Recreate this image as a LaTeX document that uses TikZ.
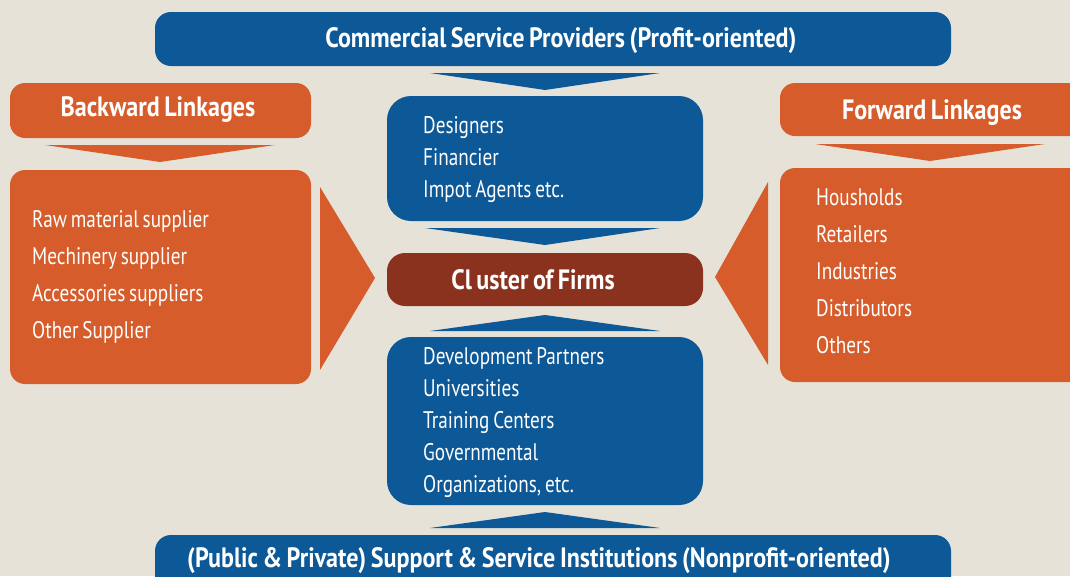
\documentclass[tikz,border=0pt]{standalone}
\usepackage{fontspec}
\setmainfont{PT Sans}[FakeStretch=0.8, WordSpace=0.75]
\newfontfamily\tfont{PT Sans}[FakeStretch=0.86, WordSpace=0.75]
\definecolor{bg}{HTML}{E6E2D8}
\definecolor{cblue}{HTML}{0D5896}
\definecolor{corange}{HTML}{D65C2B}
\definecolor{cdark}{HTML}{8A321D}
\begin{document}
\begin{tikzpicture}[x=1pt,y=-1pt,
  box/.style={draw=none, rounded corners=#1, inner sep=0pt},
  box/.default=15pt,
  ttl/.style={text=white, font=\tfont\fontsize{28}{32}\selectfont\bfseries, inner sep=0pt, yshift=-3pt},
  lst/.style={text=white, align=left, anchor=west, inner sep=0pt, font=\fontsize{24}{37}\selectfont},
  clst/.style={lst, font=\fontsize{24}{32}\selectfont}
]
\useasboundingbox[fill=bg] (0,0) rectangle (1070,576);
% top and bottom bars
\node[box=16pt, fill=cblue, minimum width=796pt, minimum height=54pt] (top) at (553,39) {};
\node[ttl] (toptxt) at (561,38) {Commercial Service Providers (Profit-oriented)};
\node[box=16pt, fill=cblue, minimum width=796pt, minimum height=60pt] (bot) at (553,565) {};
\node[ttl] (bottxt) at (539,558) {(Public \& Private) Support \& Service Institutions (Nonprofit-oriented)};
% center column
\node[box=24pt, fill=cblue, minimum width=316pt, minimum height=125pt] (ctop) at (545,158.5) {};
\node[clst] (ctoptxt) at (423,160) {Designers\\Financier\\Impot Agents etc.};
\node[box=18pt, fill=cdark, minimum width=316pt, minimum height=53pt] (cluster) at (545,279.5) {};
\node[ttl] (clustertxt) at (533,277) {Cl uster of Firms};
\node[box=24pt, fill=cblue, minimum width=316pt, minimum height=168pt] (cbot) at (545,421) {};
\node[clst] (cbottxt) at (423,423) {Development Partners\\Universities\\Training Centers\\Governmental\\Organizations, etc.};
% left column
\node[box=15pt, fill=corange, minimum width=301pt, minimum height=55pt] (back) at (160.5,110.5) {};
\node[ttl] (backtxt) at (158,107) {Backward Linkages};
\node[box=15pt, fill=corange, minimum width=301pt, minimum height=214pt] (left) at (160.5,277) {};
\node[lst] (lefttxt) at (32,277) {Raw material supplier\\Mechinery supplier\\Accessories suppliers\\Other Supplier};
% right column
\node[box=15pt, fill=corange, minimum width=310pt, minimum height=214pt] (right) at (935,275) {};
\node[lst] (righttxt) at (816,271) {Housholds\\Retailers\\Industries\\Distributors\\Others};
\node[box=15pt, fill=corange, minimum width=310pt, minimum height=53pt] (fwd) at (935,109.5) {};
\node[ttl] (fwdtxt) at (932,110) {Forward Linkages};
% arrow triangles
\fill[cblue] (430,73) -- (660,73) -- (545,90) -- cycle;
\fill[cblue] (425,228) -- (660,228) -- (545,245) -- cycle;
\fill[cblue] (430,331) -- (660,331) -- (545,315) -- cycle;
\fill[cblue] (430,528) -- (660,528) -- (545,512) -- cycle;
\fill[corange] (45,145) -- (275,145) -- (160,162) -- cycle;
\fill[corange] (815,144) -- (1045,144) -- (930,161) -- cycle;
\fill[corange] (320,187) -- (320,370) -- (375,278) -- cycle;
\fill[corange] (768,182) -- (768,365) -- (715,277) -- cycle;
\end{tikzpicture}
\end{document}
